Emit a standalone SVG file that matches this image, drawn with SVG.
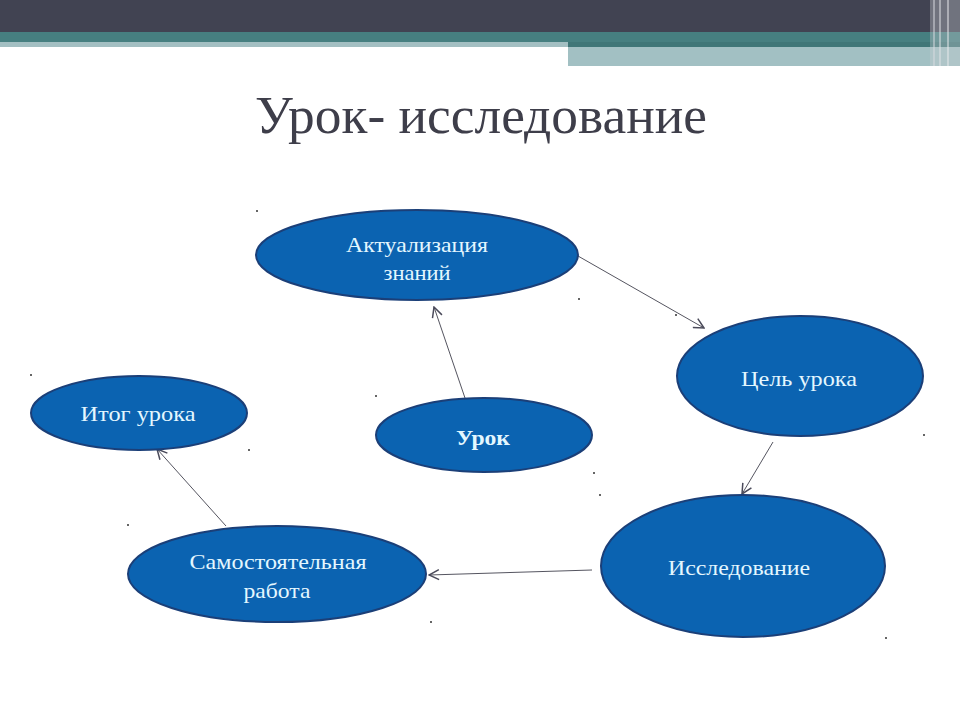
<svg xmlns="http://www.w3.org/2000/svg" width="960" height="720" viewBox="0 0 960 720">
<defs>
<marker id="arr" viewBox="0 0 12 12" refX="11" refY="6" markerWidth="12" markerHeight="12" markerUnits="userSpaceOnUse" orient="auto">
<path d="M1,1 L11,6 L1,11" fill="none" stroke="#4a4a5a" stroke-width="1.5"/>
</marker>
</defs>
<style>
.node ellipse{fill:#0b63b1;stroke:#1b3f78;stroke-width:2}
.node text{font-family:"Liberation Serif","DejaVu Serif",serif;font-size:22px;fill:#e4f7ff;text-anchor:middle}
.conn line{stroke:#555560;stroke-width:1;fill:none;marker-end:url(#arr)}
.dot{fill:#333}
</style>
<rect width="960" height="720" fill="#ffffff"/>
<g id="header">
<rect x="0" y="0" width="960" height="32" fill="#414352"/>
<rect x="0" y="32" width="960" height="10" fill="#467f80"/>
<rect x="0" y="42" width="568" height="5" fill="#a3bfc2"/>
<rect x="568" y="42" width="392" height="5" fill="#3f7677"/>
<rect x="568" y="47" width="392" height="19" fill="#a2c0c3"/>
<rect x="930" y="0" width="30" height="66" fill="#c9cdd2" opacity="0.35"/>
<line x1="934" y1="0" x2="934" y2="66" stroke="#d8dbe0" stroke-width="1"/>
<line x1="940" y1="0" x2="940" y2="66" stroke="#e0e3e6" stroke-width="1"/>
<line x1="948" y1="0" x2="948" y2="66" stroke="#e8eaec" stroke-width="1"/>
</g>
<text x="481" y="133" font-family="'Liberation Serif','DejaVu Serif',serif" font-size="52" fill="#3e3e4a" text-anchor="middle" textLength="452" lengthAdjust="spacingAndGlyphs">Урок- исследование</text>
<g class="conn">
<line x1="578" y1="256" x2="704" y2="328"/>
<line x1="773" y1="442" x2="742" y2="494"/>
<line x1="592" y1="570" x2="429" y2="575"/>
<line x1="226" y1="526" x2="157" y2="449"/>
<line x1="465" y1="398" x2="434" y2="307"/>
</g>
<g id="aktualizatsiya" class="node">
<ellipse cx="417" cy="255" rx="161" ry="45"/>
<text x="417" y="252" textLength="142" lengthAdjust="spacingAndGlyphs">Актуализация</text>
<text x="417" y="280" textLength="67" lengthAdjust="spacingAndGlyphs">знаний</text>
</g>
<g id="tsel" class="node">
<ellipse cx="800" cy="376" rx="123" ry="60"/>
<text x="799" y="386" textLength="116" lengthAdjust="spacingAndGlyphs">Цель урока</text>
</g>
<g id="urok" class="node">
<ellipse cx="484" cy="435" rx="108" ry="37"/>
<text x="483" y="445" font-weight="bold" textLength="54" lengthAdjust="spacingAndGlyphs">Урок</text>
</g>
<g id="itog" class="node">
<ellipse cx="139" cy="413" rx="108" ry="37"/>
<text x="138" y="421" textLength="115" lengthAdjust="spacingAndGlyphs">Итог урока</text>
</g>
<g id="samostoyatelnaya" class="node">
<ellipse cx="277" cy="574" rx="149" ry="48"/>
<text x="278" y="569" textLength="177" lengthAdjust="spacingAndGlyphs">Самостоятельная</text>
<text x="277" y="598" textLength="67" lengthAdjust="spacingAndGlyphs">работа</text>
</g>
<g id="issledovanie" class="node">
<ellipse cx="743" cy="566" rx="142" ry="71"/>
<text x="739" y="575" textLength="142" lengthAdjust="spacingAndGlyphs">Исследование</text>
</g>
<g id="dots">
<circle class="dot" cx="257" cy="211" r="1"/>
<circle class="dot" cx="579" cy="299" r="1"/>
<circle class="dot" cx="676" cy="315" r="1"/>
<circle class="dot" cx="31" cy="375" r="1"/>
<circle class="dot" cx="376" cy="396" r="1"/>
<circle class="dot" cx="249" cy="450" r="1"/>
<circle class="dot" cx="594" cy="473" r="1"/>
<circle class="dot" cx="600" cy="495" r="1"/>
<circle class="dot" cx="128" cy="525" r="1"/>
<circle class="dot" cx="924" cy="435" r="1"/>
<circle class="dot" cx="431" cy="622" r="1"/>
<circle class="dot" cx="886" cy="638" r="1"/>
</g>
</svg>
